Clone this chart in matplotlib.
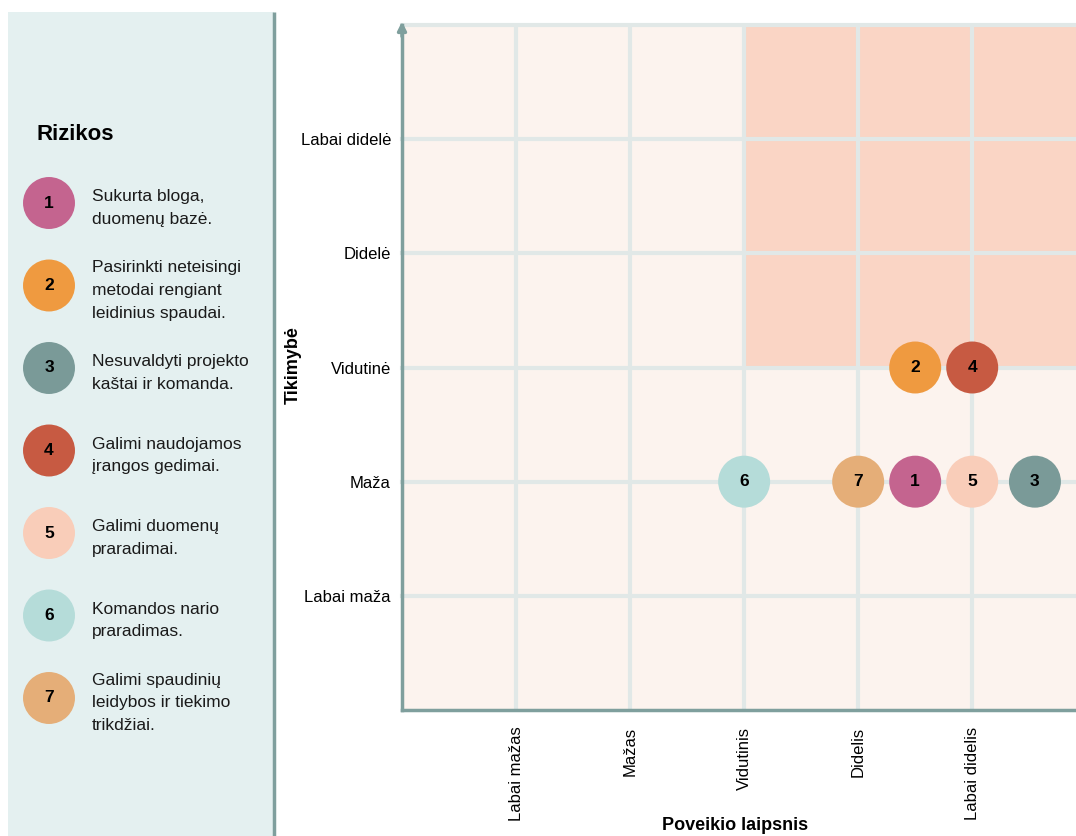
import matplotlib.pyplot as plt
from matplotlib.patches import Rectangle

plt.rcParams['font.family'] = ['Liberation Sans', 'DejaVu Sans']

# Data
impact_labels = ["Labai mažas", "Mažas", "Vidutinis", "Didelis", "Labai didelis"]
likelihood_labels = ["Labai maža", "Maža", "Vidutinė", "Didelė", "Labai didelė"]

risk_ids = ["1", "2", "3", "4", "5", "6", "7"]
risk_texts = [
    "Sukurta bloga,\nduomenų bazė.",
    "Pasirinkti neteisingi\nmetodai rengiant\nleidinius spaudai.",
    "Nesuvaldyti projekto\nkaštai ir komanda.",
    "Galimi naudojamos\nįrangos gedimai.",
    "Galimi duomenų\npraradimai.",
    "Komandos nario\npraradimas.",
    "Galimi spaudinių\nleidybos ir tiekimo\ntrikdžiai.",
]
risk_impact = [4.5, 4.5, 5.55, 5.0, 5.0, 3.0, 4.0]
risk_likelihood = [2, 3, 2, 3, 2, 2, 2]
risk_colors = ["#c4648f", "#ef9a40", "#7a9a98", "#c75a42", "#f9cdb9", "#b5dcd9", "#e5ae78"]

W, H = 1076, 836
fig = plt.figure(figsize=(W / 100, H / 100), dpi=100)

axis_col = "#7f9f9d"
grid_col = "#e1e8e7"

# Left legend panel, in pixel coordinates
pan = fig.add_axes([0, 0, 1, 1], zorder=0)
pan.set_xlim(0, W)
pan.set_ylim(H, 0)
pan.axis("off")
pan.add_patch(Rectangle((8, 12), 266, H - 12, facecolor="#e4f0f0", edgecolor="none"))
pan.plot([274, 274], [12, H], color=axis_col, lw=2.5, solid_capstyle="butt")
pan.text(36, 134, "Rizikos", fontsize=16, fontweight="bold", va="center", ha="left")
for i, (rid, txt, col) in enumerate(zip(risk_ids, risk_texts, risk_colors)):
    cy = 203 + i * 82.5
    pan.scatter([49], [cy], s=1400, color=col, edgecolors="none")
    pan.text(49, cy, rid, fontsize=12.5, fontweight="bold", ha="center", va="center")
    pan.text(92, cy + 5, txt, fontsize=12.5, ha="left", va="center", linespacing=1.65,
             color="#1a1a1a")

# Axis titles
pan.text(735, 825, "Poveikio laipsnis", fontsize=13, fontweight="bold", ha="center", va="center")
pan.text(293, 365, "Tikimybė", fontsize=13, fontweight="bold", ha="center", va="center",
         rotation=90)

# Risk matrix
ax = fig.add_axes([402 / W, (H - 710) / H, (W - 402) / W, 685 / H], zorder=1)
ax.set_xlim(0, 5.91)
ax.set_ylim(0, 6)
ax.set_facecolor("#fcf3ee")
ax.add_patch(Rectangle((3, 3), 3, 3, facecolor="#fad5c5", edgecolor="none", zorder=1))

xt = range(1, len(impact_labels) + 1)
yt = range(1, len(likelihood_labels) + 1)
for x in xt:
    ax.axvline(x, color=grid_col, lw=3, zorder=2)
for y in list(yt) + [6]:
    ax.axhline(y, color=grid_col, lw=3, zorder=2, clip_on=False)

ax.set_xticks(list(xt))
ax.set_xticklabels(impact_labels, rotation=90, fontsize=12, va="top")
ax.set_yticks(list(yt))
ax.set_yticklabels(likelihood_labels, fontsize=12)
ax.tick_params(length=0, pad=12)
ax.tick_params(axis="y", pad=8)

for s in ["top", "right"]:
    ax.spines[s].set_visible(False)
for s in ["left", "bottom"]:
    ax.spines[s].set_color(axis_col)
    ax.spines[s].set_linewidth(2.5)
    ax.spines[s].set_zorder(3)
ax.annotate("", xy=(0, 6.03), xytext=(0, 5.9), xycoords="data",
            arrowprops=dict(arrowstyle="-|>,head_length=0.5,head_width=0.25", color=axis_col,
                            lw=2.5, shrinkA=0, shrinkB=0),
            annotation_clip=False)

ax.scatter(risk_impact, risk_likelihood, s=1400, c=risk_colors, edgecolors="none", zorder=4)
for rid, xi, yi in zip(risk_ids, risk_impact, risk_likelihood):
    ax.text(xi, yi, rid, fontsize=12.5, fontweight="bold", ha="center", va="center", zorder=5)

fig.savefig("out.png", dpi=100)
